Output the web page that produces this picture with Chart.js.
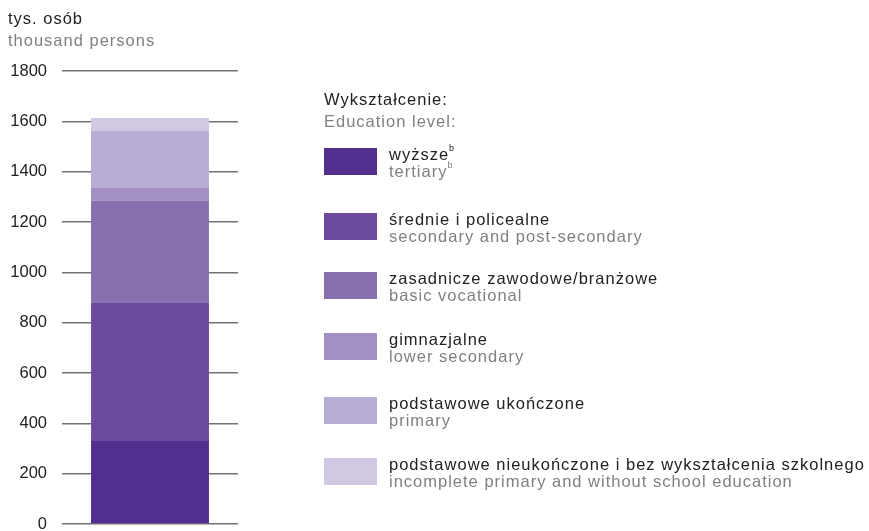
<!DOCTYPE html>
<html><head><meta charset="utf-8">
<script src="https://cdn.jsdelivr.net/npm/chart.js@4"></script>
<style>html,body{margin:0;padding:0;background:#fff;}#wrap{width:869px;height:531px;position:relative;}</style>
</head><body><div id="wrap"><canvas id="c" width="869" height="531"></canvas></div>
<script>
const categories = [""];
const seriesPL = ["wyższe","średnie i policealne","zasadnicze zawodowe/branżowe","gimnazjalne","podstawowe ukończone","podstawowe nieukończone i bez wykształcenia szkolnego"];
const seriesEN = ["tertiary","secondary and post-secondary","basic vocational","lower secondary","primary","incomplete primary and without school education"];
const seriesSup = ["b","","","","",""];
const tertiary = [330];
const secondary = [548];
const vocational = [406];
const lowerSecondary = [51];
const primary = [227];
const incomplete = [51];
const colors = ["#522e8e","#6c4a9d","#8770b0","#a28fc3","#b8add4","#d1c9e3"];
const yTicks = [0,200,400,600,800,1000,1200,1400,1600,1800];
const unitPL = "tys. osób", unitEN = "thousand persons";
const legendTitlePL = "Wykształcenie:", legendTitleEN = "Education level:";

const values = [tertiary, secondary, vocational, lowerSecondary, primary, incomplete];
const FONT = "'Liberation Sans', Arial, sans-serif";

const overlay = {
  id: 'overlay',
  afterDraw(chart) {
    const ctx = chart.ctx;
    ctx.save();
    try { ctx.letterSpacing = "1px"; } catch (e) {}
    ctx.textBaseline = 'alphabetic';
    ctx.textAlign = 'left';
    ctx.font = "16.5px " + FONT;
    ctx.fillStyle = "#222";
    ctx.fillText(unitPL, 8, 24);
    ctx.fillStyle = "#808080";
    ctx.fillText(unitEN, 8, 46);
    // legend
    ctx.fillStyle = "#222";
    ctx.fillText(legendTitlePL, 324, 105);
    ctx.fillStyle = "#808080";
    ctx.fillText(legendTitleEN, 324, 127);
    const tops = [148, 213, 272, 333, 397, 458];
    chart.data.datasets.forEach((ds, i) => {
      const y = tops[i];
      ctx.fillStyle = ds.backgroundColor;
      ctx.fillRect(324, y, 53, 27);
      ctx.font = "16.5px " + FONT;
      ctx.fillStyle = "#222";
      ctx.fillText(seriesPL[i], 389, y + 12);
      let w1 = ctx.measureText(seriesPL[i]).width;
      ctx.fillStyle = "#808080";
      ctx.fillText(seriesEN[i], 389, y + 29);
      let w2 = ctx.measureText(seriesEN[i]).width;
      if (seriesSup[i]) {
        ctx.font = "9px " + FONT;
        ctx.fillStyle = "#222";
        ctx.fillText(seriesSup[i], 389 + w1, y + 3);
        ctx.fillStyle = "#808080";
        ctx.fillText(seriesSup[i], 389 + w2, y + 20);
      }
    });
    ctx.restore();
  }
};

new Chart(document.getElementById('c'), {
  type: 'bar',
  data: {
    labels: categories,
    datasets: values.map((v, i) => ({
      label: seriesPL[i],
      data: v,
      backgroundColor: colors[i],
      borderWidth: 0,
      categoryPercentage: 1,
      barPercentage: 0.67
    }))
  },
  options: {
    responsive: false,
    animation: false,
    devicePixelRatio: 1,
    layout: { padding: { top: 71, bottom: 7, left: 0, right: 631 } },
    plugins: { legend: { display: false }, tooltip: { enabled: false } },
    scales: {
      x: { stacked: true, display: false },
      y: {
        stacked: true, min: 0, max: 1800,
        afterBuildTicks(scale) { scale.ticks = yTicks.map(v => ({ value: v })); },
        afterFit(scale) { scale.width = 62; scale.paddingTop = 0; scale.paddingBottom = 0; },
        grid: { color: "#727272", lineWidth: 1.4, drawTicks: false },
        border: { display: false },
        ticks: { padding: 15, color: "#222", font: { family: FONT, size: 16.5 }, callback: v => String(v) }
      }
    }
  },
  plugins: [overlay]
});
</script></body></html>
